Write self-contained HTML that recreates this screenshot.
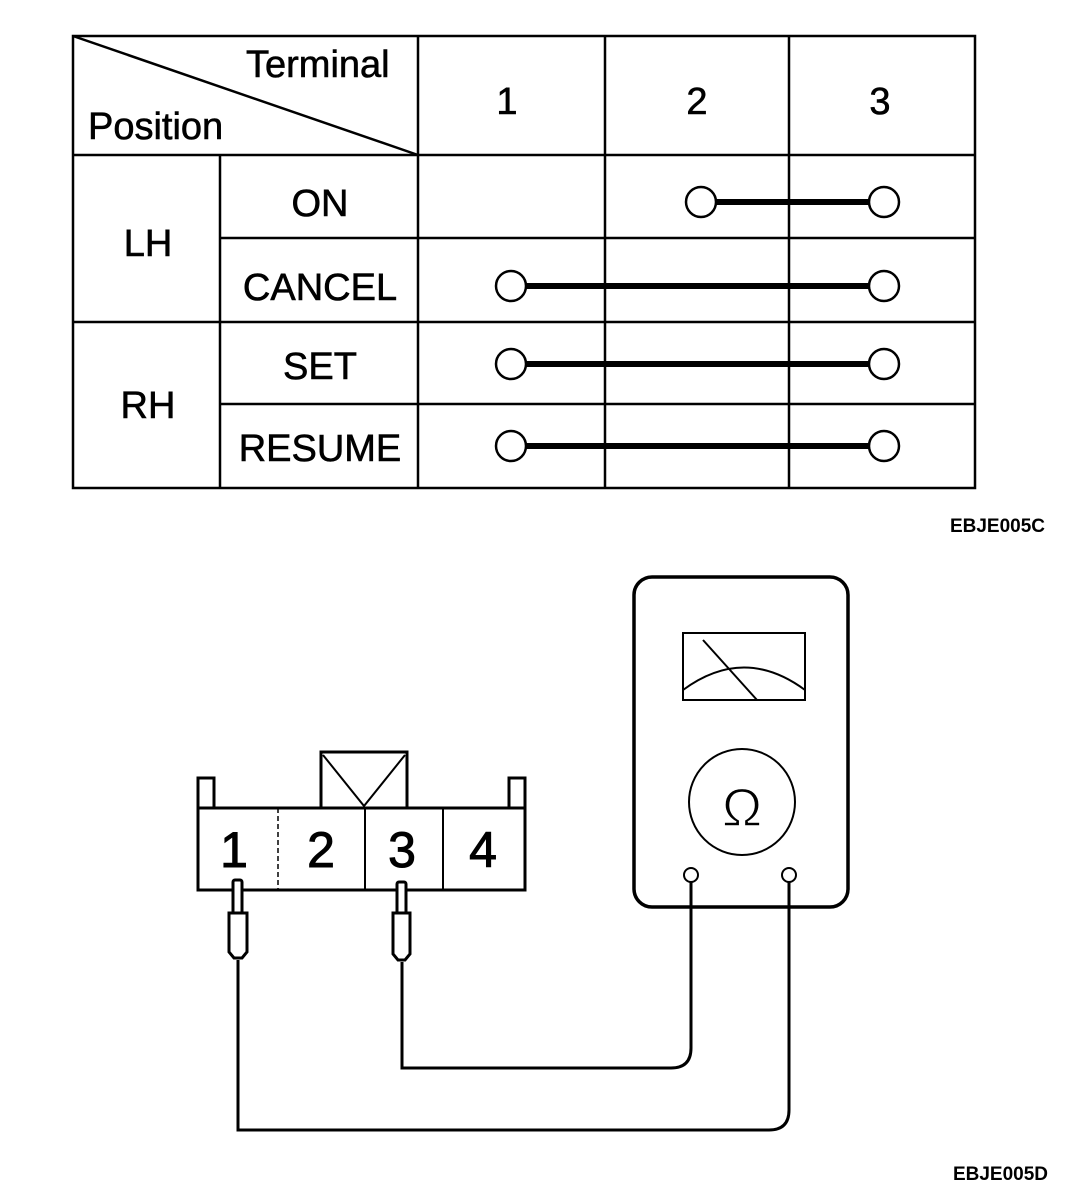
<!DOCTYPE html>
<html><head><style>body{margin:0;background:#fff}svg{display:block}text{font-family:"Liberation Sans",sans-serif;fill:#000}</style></head><body>
<svg width="1088" height="1202" viewBox="0 0 1088 1202" xmlns="http://www.w3.org/2000/svg">
<g stroke="#000" stroke-width="2.5" fill="none">
<rect x="73" y="36" width="902" height="452"/>
<line x1="73" y1="155" x2="975" y2="155"/>
<line x1="73" y1="36" x2="418" y2="155"/>
<line x1="220" y1="155" x2="220" y2="488"/>
<line x1="418" y1="36" x2="418" y2="488"/>
<line x1="605" y1="36" x2="605" y2="488"/>
<line x1="789" y1="36" x2="789" y2="488"/>
<line x1="220" y1="238" x2="975" y2="238"/>
<line x1="73" y1="322" x2="975" y2="322"/>
<line x1="220" y1="404" x2="975" y2="404"/>
</g>
<g stroke="#000" stroke-width="6"><line x1="701" y1="202" x2="884" y2="202"/><line x1="511" y1="286" x2="884" y2="286"/><line x1="511" y1="364" x2="884" y2="364"/><line x1="511" y1="446" x2="884" y2="446"/></g>
<g stroke="#000" stroke-width="2.5" fill="#fff">
<circle cx="701" cy="202" r="15"/><circle cx="884" cy="202" r="15"/>
<circle cx="511" cy="286" r="15"/><circle cx="884" cy="286" r="15"/>
<circle cx="511" cy="364" r="15"/><circle cx="884" cy="364" r="15"/>
<circle cx="511" cy="446" r="15"/><circle cx="884" cy="446" r="15"/>
</g>
<g font-size="38" stroke="#000" stroke-width="0.6">
<text x="246" y="77">Terminal</text>
<text x="88" y="139">Position</text>
<text x="507" y="114" text-anchor="middle">1</text>
<text x="697" y="114" text-anchor="middle">2</text>
<text x="880" y="114" text-anchor="middle">3</text>
<text x="320" y="216" text-anchor="middle">ON</text>
<text x="320" y="300" text-anchor="middle">CANCEL</text>
<text x="320" y="379" text-anchor="middle">SET</text>
<text x="320" y="461" text-anchor="middle">RESUME</text>
<text x="148" y="256" text-anchor="middle">LH</text>
<text x="148" y="418" text-anchor="middle">RH</text>
</g>
<text x="1045" y="532" font-size="19" text-anchor="end" font-weight="bold">EBJE005C</text>
<text x="1048" y="1180" font-size="19" text-anchor="end" font-weight="bold">EBJE005D</text>
<g stroke="#000" fill="none">
<rect x="634" y="577" width="214" height="330" rx="18" stroke-width="3.5"/>
<rect x="683" y="633" width="122" height="67" stroke-width="2"/>
<path d="M683 690 Q744 645 805 690" stroke-width="2"/>
<line x1="703" y1="640" x2="757" y2="700" stroke-width="2"/>
<circle cx="742" cy="802" r="53" stroke-width="2"/>
<circle cx="691" cy="875" r="7" stroke-width="2"/>
<circle cx="789" cy="875" r="7" stroke-width="2"/>
<path d="M691 882 V1048 Q691 1068 671 1068 H402 V962" stroke-width="3"/>
<path d="M789 882 V1110 Q789 1130 769 1130 H238 V960" stroke-width="3"/>
</g>
<text x="742" y="826" font-size="54" text-anchor="middle" stroke="#fff" stroke-width="1.5">Ω</text>
<g stroke="#000" stroke-width="3" fill="#fff">
<rect x="198" y="778" width="16" height="30"/>
<rect x="509" y="778" width="16" height="30"/>
<rect x="321" y="752" width="86" height="56"/>
<rect x="198" y="808" width="327" height="82"/>
</g>
<g stroke="#000" fill="none">
<path d="M323 755 L364 806 L405 755" stroke-width="2"/>
<line x1="278" y1="808" x2="278" y2="890" stroke-width="1.5" stroke-dasharray="5 3"/>
<line x1="365" y1="808" x2="365" y2="890" stroke-width="2"/>
<line x1="443" y1="808" x2="443" y2="890" stroke-width="2"/>
</g>
<g font-size="50" stroke="#000" stroke-width="1"><text x="234" y="867" text-anchor="middle">1</text><text x="321" y="867" text-anchor="middle">2</text><text x="402" y="867" text-anchor="middle">3</text><text x="483" y="867" text-anchor="middle">4</text></g>
<g stroke="#000" stroke-width="3" fill="#fff">
<rect x="233" y="880" width="9" height="34" rx="2"/>
<path d="M229 913 H247 V952 L242 958 H234 L229 952 Z"/>
<rect x="397" y="882" width="9" height="32" rx="2"/>
<path d="M393 913 H410 V954 L405 960 H398 L393 954 Z"/>
</g>
</svg>
</body></html>
